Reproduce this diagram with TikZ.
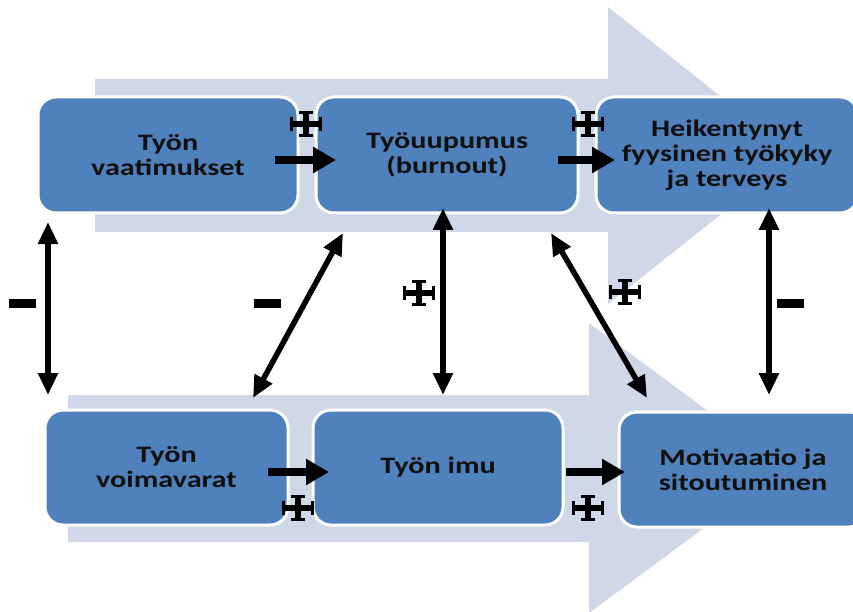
\documentclass[tikz,border=0pt]{standalone}
\usepackage{fontspec}
\setmainfont{Carlito}[FakeStretch=1.28]
\usetikzlibrary{arrows.meta}
\definecolor{boxblue}{HTML}{4F81BD}
\definecolor{bandblue}{HTML}{D0D8E8}
\definecolor{txt}{HTML}{101010}
\tikzset{
  box/.style={draw=white, line width=3pt, fill=boxblue, rounded corners=18pt,
    align=center, text=txt, inner sep=0pt,
    font=\bfseries\fontsize{23.6}{25}\selectfont},
  band/.style={fill=bandblue},
  flowarrow/.style={line width=8pt, -{Triangle[length=23pt,width=25pt]}},
  linkarrow/.style={line width=5.5pt, {Triangle[length=22pt,width=19pt]}-{Triangle[length=22pt,width=19pt]}},
  minussign/.style={fill=black, minimum width=27pt, minimum height=9pt, inner sep=0pt},
  pluscross/.pic={
    \draw[line width=6.5pt] (-14,0)--(14,0) (0,-11)--(0,11);
    \draw[line width=3.5pt] (-14.5,-7)--(-14.5,7) (14.5,-7)--(14.5,7)
                          (-7,-11.5)--(7,-11.5) (-7,11.5)--(7,11.5);
  }
}
\begin{document}
\begin{tikzpicture}[x=1pt,y=-1pt]
\useasboundingbox (0,0) rectangle (853,612);
\clip (0,0) rectangle (853,612);
\fill[white] (0,0) rectangle (853,612);
% background process arrows
\fill[band] (95,79) -- (608,79) -- (608,7) -- (795,155.5) -- (608,304) -- (608,232) -- (95,232) -- cycle;
\fill[band] (68,395) -- (589,395) -- (589,323) -- (785,468) -- (589,613) -- (589,542) -- (68,542) -- cycle;
% boxes
\node[box, minimum width=260pt, minimum height=116pt] (b1) at (168,155) {Työn\\vaatimukset};
\node[box, minimum width=262pt, minimum height=116pt] (b2) at (447,155) {Työuupumus\\(burnout)};
\node[box, minimum width=262pt, minimum height=116pt] (b3) at (727,155) {Heikentynyt\\fyysinen työkyky\\ja terveys};
\node[box, minimum width=243pt, minimum height=115pt] (b4) at (166.5,467.5) {Työn\\voimavarat};
\node[box, minimum width=250pt, minimum height=115pt] (b5) at (438,467.5) {Työn imu};
\node[box, minimum width=248pt, minimum height=115pt] (b6) at (743,469.5) {Motivaatio ja\\sitoutuminen};
% connector end points
\coordinate (a1s) at (275,160); \coordinate (a1e) at (336,160);
\coordinate (a2s) at (558,160); \coordinate (a2e) at (615,160);
\coordinate (a3s) at (268,472); \coordinate (a3e) at (329,472);
\coordinate (a4s) at (566,472); \coordinate (a4e) at (625,472);
\coordinate (v1t) at (48,222);  \coordinate (v1b) at (48,395);
\coordinate (v2t) at (443,208); \coordinate (v2b) at (443,395);
\coordinate (v3t) at (769,208); \coordinate (v3b) at (769,395);
\coordinate (d1t) at (343,233); \coordinate (d1b) at (253,398);
\coordinate (d2t) at (551,233); \coordinate (d2b) at (647,398);
% flow arrows
\draw[flowarrow] (a1s) -- (a1e);
\draw[flowarrow] (a2s) -- (a2e);
\draw[flowarrow] (a3s) -- (a3e);
\draw[flowarrow] (a4s) -- (a4e);
% link arrows
\draw[linkarrow] (v1t) -- (v1b);
\draw[linkarrow] (v2t) -- (v2b);
\draw[linkarrow] (v3t) -- (v3b);
\draw[linkarrow] (d1t) -- (d1b);
\draw[linkarrow] (d2t) -- (d2b);
% signs
\pic at (306,124) {pluscross};
\pic at (588,124) {pluscross};
\pic at (298,508) {pluscross};
\pic at (588,508) {pluscross};
\pic at (419,293) {pluscross};
\pic at (625,292) {pluscross};
\node[minussign] (m1) at (22,303) {};
\node[minussign] (m2) at (267,303) {};
\node[minussign] (m3) at (790,303) {};
\end{tikzpicture}
\end{document}
